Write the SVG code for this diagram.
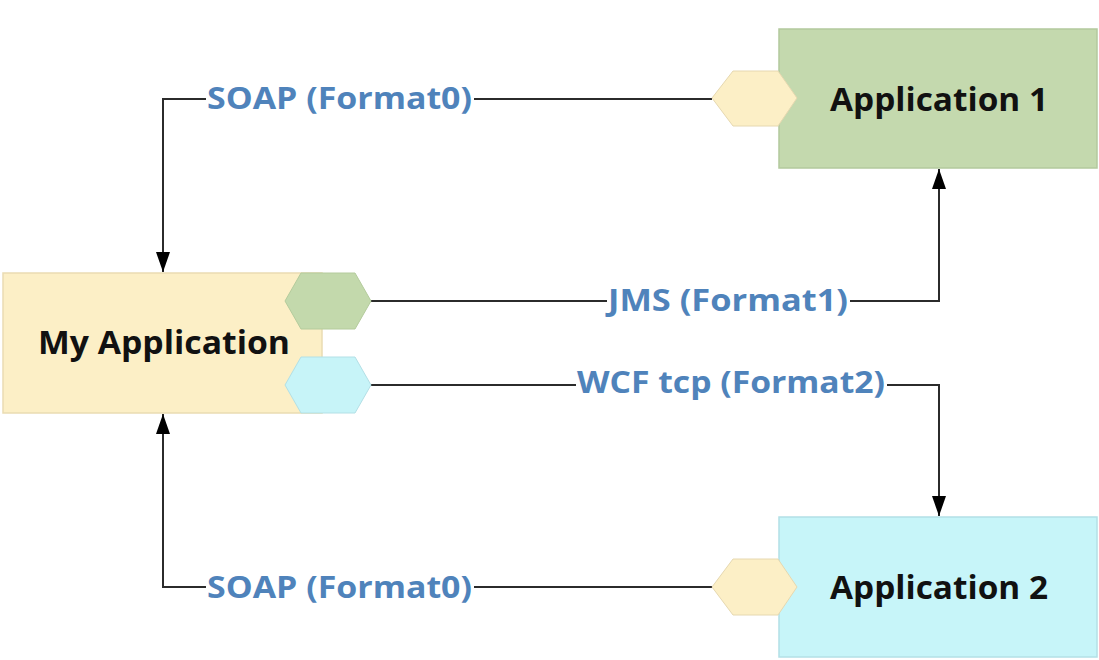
<svg xmlns="http://www.w3.org/2000/svg" width="1099" height="660" viewBox="0 0 1099 660">
<defs>
<style>
.box{stroke-width:1.5}
.title{font-family:"Open Sans","Liberation Sans",sans-serif;font-weight:700;font-size:32px;fill:#111;text-anchor:middle}
.lbl{font-family:"Open Sans","Liberation Sans",sans-serif;font-weight:700;font-size:30px;fill:#4f83bb;text-anchor:middle}
.wire{fill:none;stroke:#2b2b2b;stroke-width:2}
.bg{fill:#ffffff}
</style>
<marker id="ah" viewBox="0 0 20 14" refX="20" refY="7" markerWidth="20" markerHeight="14" markerUnits="userSpaceOnUse" orient="auto">
<path d="M0,0 L20,7 L0,14 Z" fill="#000"/>
</marker>
</defs>
<rect width="1099" height="660" fill="#ffffff"/>

<g id="connectors">
<path class="wire" d="M712,99 H163 V272" marker-end="url(#ah)"/>
<path class="wire" d="M371,301 H939 V169" marker-end="url(#ah)"/>
<path class="wire" d="M371,385 H939 V516" marker-end="url(#ah)"/>
<path class="wire" d="M712,587 H163 V414" marker-end="url(#ah)"/>
<rect class="bg" x="206" y="83" width="268" height="35"/>
<text class="lbl" x="339.5" y="109" textLength="265" lengthAdjust="spacingAndGlyphs">SOAP (Format0)</text>
<rect class="bg" x="607" y="285" width="243" height="35"/>
<text class="lbl" x="728" y="311" textLength="240" lengthAdjust="spacingAndGlyphs">JMS (Format1)</text>
<rect class="bg" x="576" y="367" width="311" height="35"/>
<text class="lbl" x="731" y="393" textLength="308" lengthAdjust="spacingAndGlyphs">WCF tcp (Format2)</text>
<rect class="bg" x="206" y="571" width="268" height="35"/>
<text class="lbl" x="339.5" y="598" textLength="265" lengthAdjust="spacingAndGlyphs">SOAP (Format0)</text>
</g>

<g id="my-application">
<rect class="box" x="3" y="273" width="319" height="140" fill="#fcefc6" stroke="#eadcb2"/>
<polygon points="285,301 301,273 355,273 371,301 355,329 301,329" fill="#c3d9ac" stroke="#b4cb9c" stroke-width="1"/>
<polygon points="285,385 301,357 355,357 371,385 355,413 301,413" fill="#c7f4f8" stroke="#b3e0e6" stroke-width="1"/>
<text class="title" x="164" y="354" textLength="252" lengthAdjust="spacingAndGlyphs">My Application</text>
</g>

<g id="application-1">
<rect class="box" x="779" y="29" width="318" height="139" fill="#c4d9ae" stroke="#b3c99d"/>
<polygon points="712,98 733,71 778,71 797,98 778,126 733,126" fill="#fcefc6" stroke="#e6d8b0" stroke-width="1"/>
<text class="title" x="939" y="111" textLength="218" lengthAdjust="spacingAndGlyphs">Application 1</text>
</g>

<g id="application-2">
<rect class="box" x="779" y="517" width="318" height="140" fill="#c7f5f9" stroke="#b3e0e6"/>
<polygon points="712,587 733,559 778,559 797,587 778,615 733,615" fill="#fcefc6" stroke="#e6d8b0" stroke-width="1"/>
<text class="title" x="939" y="599" textLength="218" lengthAdjust="spacingAndGlyphs">Application 2</text>
</g>
</svg>
